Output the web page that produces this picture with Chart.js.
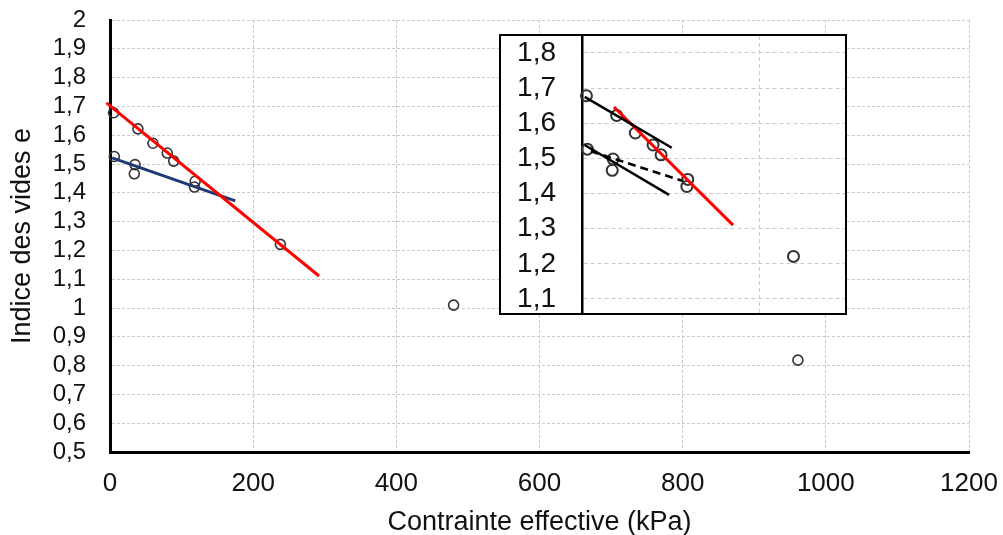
<!DOCTYPE html>
<html><head><meta charset="utf-8">
<script src="https://cdn.jsdelivr.net/npm/chart.js@4/dist/chart.umd.min.js"></script>
<style>
html,body{margin:0;padding:0;background:#fff;}
#wrap{position:relative;width:1003px;height:535px;overflow:hidden;background:#fff;}
#main{position:absolute;left:0;top:0;}
#insetBox{position:absolute;left:499px;top:34px;width:348px;height:281px;box-sizing:border-box;border:2px solid #000;background:#fff;}
#inset{display:block;}
</style></head><body>
<div id="wrap">
<canvas id="main" width="1003" height="535"></canvas>
<div id="insetBox"><canvas id="inset" width="344" height="277"></canvas></div>
</div>
<script>
// ---- data ----
const pointsX = [5, 39, 60, 80, 89, 119, 118, 6, 35, 34, 238, 480, 961];
const pointsY = [1.678, 1.622, 1.572, 1.538, 1.51, 1.44, 1.42, 1.526, 1.498, 1.466, 1.221, 1.01, 0.819];

const mainRedX = [-5, 292];
const mainRedY = [1.712, 1.111];
const mainBlueX = [3, 175];
const mainBlueY = [1.521, 1.372];

const insetUpperX = [3, 101];
const insetUpperY = [1.675, 1.530];
const insetRedX = [36, 170];
const insetRedY = [1.646, 1.31];
const insetLowerX = [3, 98];
const insetLowerY = [1.538, 1.396];
const insetDashX = [10, 114];
const insetDashY = [1.52, 1.435];

const xTicks = [0, 200, 400, 600, 800, 1000, 1200];
const xTickLabels = ['0', '200', '400', '600', '800', '1000', '1200'];
const yTicks = [0.5, 0.6, 0.7, 0.8, 0.9, 1.0, 1.1, 1.2, 1.3, 1.4, 1.5, 1.6, 1.7, 1.8, 1.9, 2.0];
const yTickLabels = ['0,5', '0,6', '0,7', '0,8', '0,9', '1', '1,1', '1,2', '1,3', '1,4', '1,5', '1,6', '1,7', '1,8', '1,9', '2'];
const insetYTicks = [1.1, 1.2, 1.3, 1.4, 1.5, 1.6, 1.7, 1.8];
const insetYTickLabels = ['1,1', '1,2', '1,3', '1,4', '1,5', '1,6', '1,7', '1,8'];
const insetXGrid = [200];

const xTitle = 'Contrainte effective (kPa)';
const yTitle = 'Indice des vides e';

// ---- helpers ----
const FONT = "'Liberation Sans', Arial, sans-serif";
const pts = (xs, ys) => xs.map((x, i) => ({x: x, y: ys[i]}));
const setTicks = arr => (s) => { s.ticks = arr.map(v => ({value: v})); };
const noPad = (s) => { s.paddingTop = 0; s.paddingBottom = 0; s.paddingLeft = 0; s.paddingRight = 0; };
const GRID = '#c9c9c9';

const lineDs = (xs, ys, color, width, dash) => ({
  type: 'line', data: pts(xs, ys), showLine: true, borderColor: color, borderWidth: width,
  borderDash: dash || [], pointRadius: 0, pointHoverRadius: 0, tension: 0, fill: false, clip: false
});

// ---- main chart ----
new Chart(document.getElementById('main'), {
  type: 'scatter',
  data: {
    datasets: [
      lineDs(mainRedX, mainRedY, '#ff0000', 3),
      lineDs(mainBlueX, mainBlueY, '#1f3a73', 3),
      {
        data: pts(pointsX, pointsY), pointStyle: 'circle', pointRadius: 5, pointBorderWidth: 1.6,
        pointBorderColor: '#333', pointBackgroundColor: 'rgba(0,0,0,0)', borderColor: '#333',
        backgroundColor: 'rgba(0,0,0,0)', clip: 6
      }
    ]
  },
  options: {
    responsive: false, animation: false, devicePixelRatio: 1,
    layout: {padding: {top: 20, right: 34, left: 0, bottom: 0}, autoPadding: false},
    plugins: {legend: {display: false}, tooltip: {enabled: false}},
    scales: {
      x: {
        type: 'linear', min: 0, max: 1200,
        afterBuildTicks: setTicks(xTicks),
        afterFit: (s) => { s.height = 83; noPad(s); },
        grid: {color: GRID, lineWidth: 1, drawTicks: false},
        border: {display: true, color: '#000', width: 3, dash: [3, 2]},
        ticks: {color: '#111', font: {family: FONT, size: 26}, padding: 16, maxRotation: 0, autoSkip: false,
                callback: (v, i) => xTickLabels[i]},
        title: {display: true, text: xTitle, color: '#111', font: {family: FONT, size: 27, lineHeight: 1},
                padding: {top: 0, bottom: -1}}
      },
      y: {
        type: 'linear', min: 0.5, max: 2,
        afterBuildTicks: setTicks(yTicks),
        afterFit: (s) => { s.width = 110; noPad(s); },
        grid: {color: GRID, lineWidth: 1, drawTicks: false},
        border: {display: true, color: '#000', width: 3, dash: [3, 2]},
        ticks: {color: '#111', font: {family: FONT, size: 24}, padding: 24, autoSkip: false,
                callback: (v, i) => yTickLabels[i]},
        title: {display: true, text: yTitle, color: '#111', font: {family: FONT, size: 27, lineHeight: 1},
                padding: {top: 9, bottom: 0}}
      }
    }
  }
});

// ---- inset chart ----
new Chart(document.getElementById('inset'), {
  type: 'scatter',
  data: {
    datasets: [
      lineDs(insetUpperX, insetUpperY, '#000', 2.5),
      lineDs(insetLowerX, insetLowerY, '#000', 2.5),
      lineDs(insetDashX, insetDashY, '#000', 2.5, [8, 5]),
      lineDs(insetRedX, insetRedY, '#ff0000', 3),
      {
        data: pts(pointsX, pointsY), pointStyle: 'circle', pointRadius: 5.5, pointBorderWidth: 2,
        pointBorderColor: '#333', pointBackgroundColor: 'rgba(0,0,0,0)', borderColor: '#333',
        backgroundColor: 'rgba(0,0,0,0)', clip: 8
      }
    ]
  },
  options: {
    responsive: false, animation: false, devicePixelRatio: 1,
    layout: {padding: 0, autoPadding: false},
    plugins: {legend: {display: false}, tooltip: {enabled: false}},
    scales: {
      x: {
        type: 'linear', min: 0, max: 296,
        afterBuildTicks: setTicks(insetXGrid),
        afterFit: (s) => { s.height = 0; noPad(s); },
        grid: {color: GRID, lineWidth: 1, drawTicks: false},
        border: {display: false, dash: [4, 3]},
        ticks: {display: false}
      },
      y: {
        type: 'linear', min: 1.06, max: 1.848,
        afterBuildTicks: setTicks(insetYTicks),
        afterFit: (s) => { s.width = 81; noPad(s); },
        grid: {color: GRID, lineWidth: 1, drawTicks: false},
        border: {display: true, color: '#000', width: 2.5, dash: [4, 3]},
        ticks: {color: '#111', font: {family: FONT, size: 28}, padding: 26, autoSkip: false,
                callback: (v, i) => insetYTickLabels[i]}
      }
    }
  }
});
</script>
</body></html>
